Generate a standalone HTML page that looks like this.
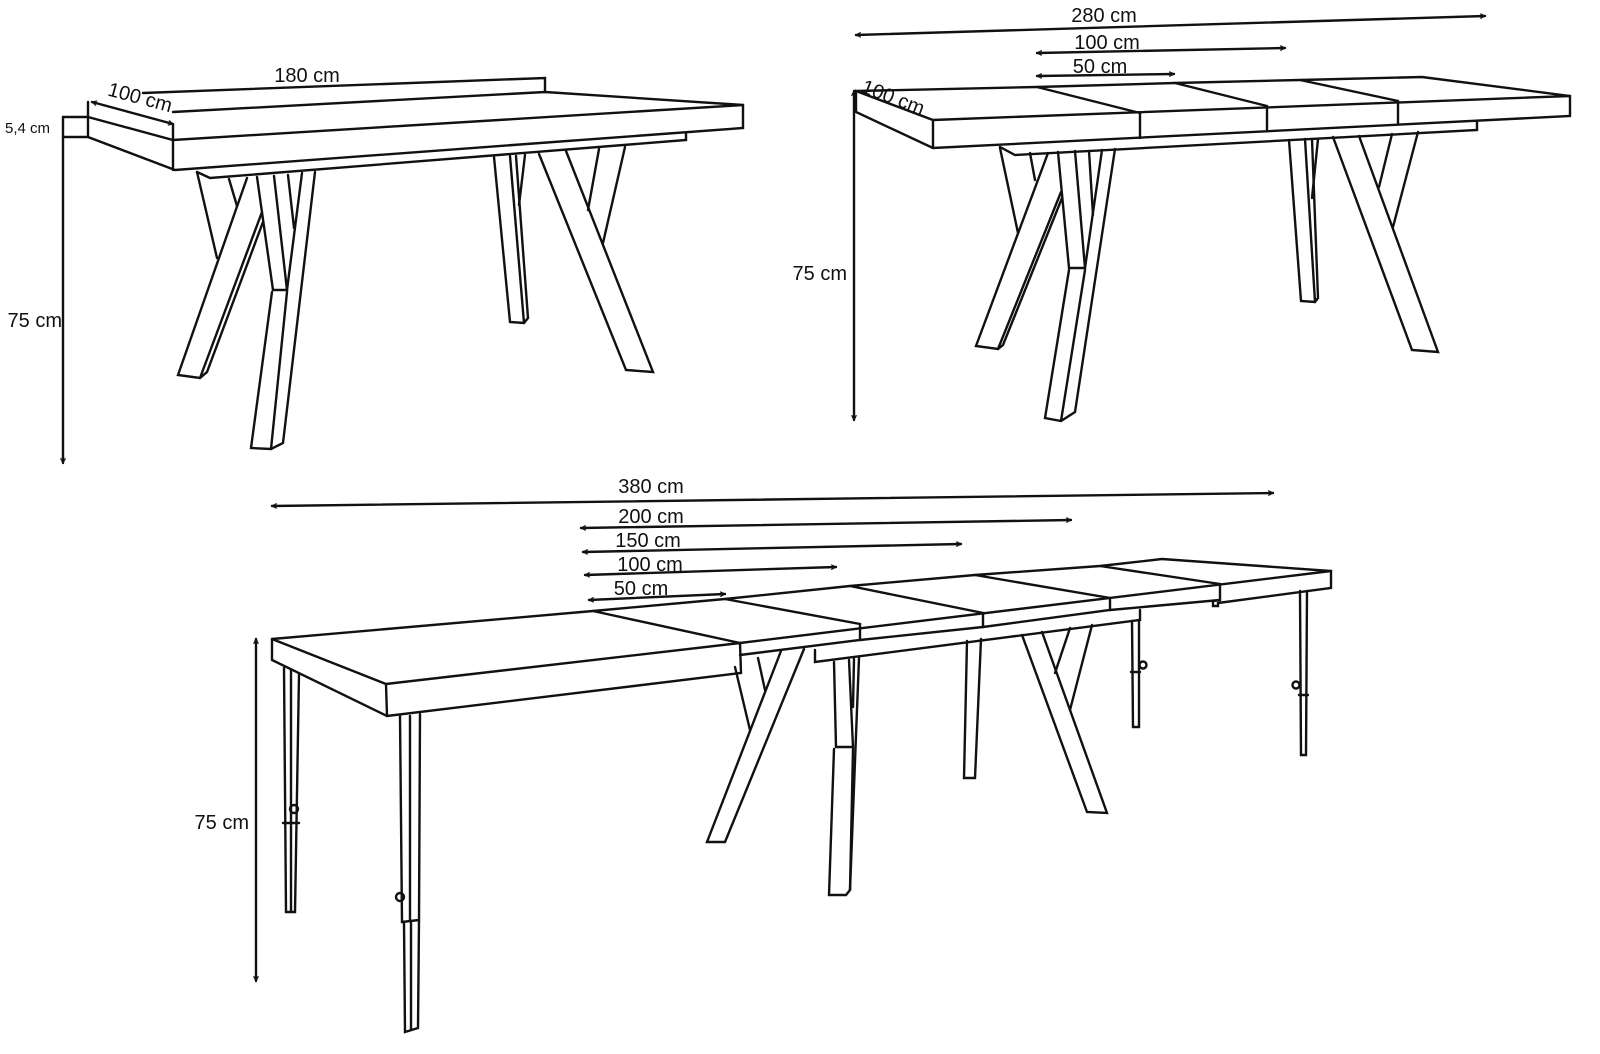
<!DOCTYPE html>
<html><head><meta charset="utf-8"><style>
html,body{margin:0;padding:0;background:#fff;}
svg{display:block}
text{font-family:"Liberation Sans",sans-serif;fill:#111;}
</style></head><body>
<svg width="1600" height="1054" viewBox="0 0 1600 1054" xmlns="http://www.w3.org/2000/svg">
<defs>
<marker id="a" viewBox="0 0 10 10" refX="9" refY="5" markerWidth="6" markerHeight="6" orient="auto-start-reverse" markerUnits="userSpaceOnUse">
<path d="M1,1 L9,5 L1,9" fill="none" stroke="#111" stroke-width="2"/>
</marker>
</defs>
<g fill="none" stroke="#111" stroke-width="2.4" stroke-linejoin="miter" stroke-linecap="round">

<!-- ========== TABLE 1 ========== -->
<line x1="63" y1="137" x2="63" y2="463" marker-end="url(#a)"/>
<line x1="63" y1="117" x2="63" y2="137"/>
<line x1="63" y1="117" x2="88" y2="117"/>
<line x1="63" y1="137" x2="88" y2="137"/>
<line x1="92" y1="102" x2="173" y2="124" marker-start="url(#a)" marker-end="url(#a)"/>
<polyline points="143,93 545,78 545,92"/>
<polyline points="88,102 88,137 175,170 743,128 743,105 173,140 88,117"/>
<line x1="173" y1="124" x2="173" y2="170"/>
<polyline points="173,112 545,92 743,105"/>
<polyline points="197,172 210,178 686,140 686,133"/>
<line x1="197" y1="172" x2="217" y2="258"/>
<line x1="229" y1="179" x2="237" y2="206"/>
<polyline points="247,178 178,375 200,378 207,372 263,222"/>
<line x1="262" y1="212" x2="200" y2="378"/>
<polyline points="257,177 273,290 287,290 274,176"/>
<line x1="288" y1="175" x2="294" y2="228"/>
<line x1="302" y1="173" x2="287" y2="290"/>
<polyline points="272,292 251,448 271,449 283,443 315,172"/>
<line x1="287" y1="292" x2="271" y2="449"/>
<polyline points="494,157 510,322 524,323 528,318 516,156"/>
<line x1="510" y1="156" x2="524" y2="323"/>
<line x1="525" y1="155" x2="519" y2="205"/>
<polyline points="539,154 626,370 653,372 566,151"/>
<line x1="599" y1="149" x2="588" y2="210"/>
<line x1="625" y1="147" x2="603" y2="243"/>

<!-- ========== TABLE 2 ========== -->
<line x1="856" y1="35" x2="1485" y2="16" marker-start="url(#a)" marker-end="url(#a)"/>
<line x1="1037" y1="53" x2="1285" y2="48" marker-start="url(#a)" marker-end="url(#a)"/>
<line x1="1037" y1="76" x2="1174" y2="74" marker-start="url(#a)" marker-end="url(#a)"/>
<line x1="854" y1="91" x2="854" y2="420" marker-start="url(#a)" marker-end="url(#a)"/>
<polyline points="856,91 1037,87 1175,83 1300,80 1422,77 1570,96 1570,116 933,148 856,112 856,91 933,120 1570,96"/>
<line x1="933" y1="120" x2="933" y2="148"/>
<polyline points="1037,87 1140,113 1140,138"/>
<polyline points="1175,83 1267,106 1267,130"/>
<polyline points="1300,80 1398,101 1398,124"/>
<polyline points="1000,147 1015,155 1477,130 1477,122"/>
<line x1="1000" y1="148" x2="1018" y2="233"/>
<line x1="1030" y1="153" x2="1035" y2="180"/>
<polyline points="1048,153 976,346 998,349 1003,345 1062,198"/>
<line x1="1061" y1="192" x2="998" y2="349"/>
<polyline points="1058,152 1069,268 1085,268 1075,151"/>
<line x1="1089" y1="151" x2="1093" y2="215"/>
<line x1="1102" y1="150" x2="1085" y2="268"/>
<polyline points="1069,270 1045,418 1061,421 1075,412 1115,149"/>
<line x1="1085" y1="270" x2="1061" y2="421"/>
<polyline points="1289,140 1301,301 1315,302 1318,298 1312,139"/>
<line x1="1305" y1="139" x2="1315" y2="302"/>
<line x1="1318" y1="139" x2="1312" y2="198"/>
<polyline points="1333,137 1412,350 1438,352 1359,136"/>
<line x1="1392" y1="134" x2="1379" y2="187"/>
<line x1="1418" y1="132" x2="1393" y2="227"/>

<!-- ========== TABLE 3 ========== -->
<line x1="272" y1="506" x2="1273" y2="493" marker-start="url(#a)" marker-end="url(#a)"/>
<line x1="581" y1="528" x2="1071" y2="520" marker-start="url(#a)" marker-end="url(#a)"/>
<line x1="583" y1="552" x2="961" y2="544" marker-start="url(#a)" marker-end="url(#a)"/>
<line x1="585" y1="575" x2="836" y2="567" marker-start="url(#a)" marker-end="url(#a)"/>
<line x1="589" y1="600" x2="725" y2="594" marker-start="url(#a)" marker-end="url(#a)"/>
<line x1="256" y1="639" x2="256" y2="981" marker-start="url(#a)" marker-end="url(#a)"/>
<polyline points="272,639 593,611 725,599 850,586 975,575 1100,566 1162,559 1331,571 1331,588 1218,603"/>
<polyline points="272,639 272,660 387,716 741,673 740,643 386,684 272,639"/>
<line x1="386" y1="684" x2="387" y2="716"/>
<line x1="593" y1="611" x2="740" y2="643"/>
<line x1="740" y1="643" x2="1331" y2="571"/>
<polyline points="725,599 860,624 860,640 740,655"/>
<polyline points="850,586 983,613 983,627 860,640"/>
<polyline points="975,575 1110,598 1110,610 983,627"/>
<polyline points="1100,566 1220,584 1220,600 1110,610"/>
<polyline points="1220,600 1213,601 1213,606 1218,606 1218,603"/>
<polyline points="815,650 815,662 1140,620 1140,610"/>
<polyline points="834,662 836,747 853,747 849,660"/>
<polyline points="834,749 829,895 846,895 850,890 853,749"/>
<line x1="854" y1="659" x2="853" y2="707"/>
<line x1="859" y1="658" x2="850" y2="890"/>
<polyline points="781,651 707,842 725,842 804,649"/>
<line x1="735" y1="667" x2="750" y2="730"/>
<line x1="758" y1="658" x2="765" y2="690"/>
<polyline points="967,641 964,778 975,778 981,639"/>
<polyline points="1022,635 1087,812 1107,813 1042,632"/>
<line x1="1070" y1="628" x2="1055" y2="673"/>
<line x1="1092" y1="625" x2="1070" y2="710"/>
<polyline points="1132,621 1133,727 1139,727 1139,620"/>
<line x1="1131" y1="672" x2="1140" y2="672"/>
<circle cx="1143" cy="665" r="3.5"/>
<polyline points="1300,591 1301,755 1306,755 1307,591"/>
<line x1="1299" y1="695" x2="1308" y2="695"/>
<circle cx="1296" cy="685" r="3.5"/>
<polyline points="284,668 286,912 295,912 299,674"/>
<line x1="291" y1="670" x2="291" y2="912"/>
<line x1="283" y1="823" x2="299" y2="823"/>
<circle cx="294" cy="809" r="4"/>
<polyline points="400,716 402,922 419,920 420,714"/>
<line x1="410" y1="716" x2="410" y2="921"/>
<polyline points="404,923 405,1032 418,1028 419,920"/>
<line x1="411" y1="923" x2="411" y2="1030"/>
<circle cx="400" cy="897" r="4"/>
</g>

<g font-size="20">
<text x="307" y="82" text-anchor="middle">180 cm</text>
<text x="140" y="104" text-anchor="middle" transform="rotate(15 140 98)">100 cm</text>
<text x="5" y="133" font-size="15">5,4 cm</text>
<text x="62" y="327" text-anchor="end">75 cm</text>

<text x="1104" y="22" text-anchor="middle">280 cm</text>
<text x="1107" y="49" text-anchor="middle">100 cm</text>
<text x="1100" y="73" text-anchor="middle">50 cm</text>
<text x="893" y="104" text-anchor="middle" transform="rotate(21 893 98)">100 cm</text>
<text x="847" y="280" text-anchor="end">75 cm</text>

<text x="651" y="493" text-anchor="middle">380 cm</text>
<text x="651" y="523" text-anchor="middle">200 cm</text>
<text x="648" y="547" text-anchor="middle">150 cm</text>
<text x="650" y="571" text-anchor="middle">100 cm</text>
<text x="641" y="595" text-anchor="middle">50 cm</text>
<text x="249" y="829" text-anchor="end">75 cm</text>
</g>
</svg>
</body></html>
